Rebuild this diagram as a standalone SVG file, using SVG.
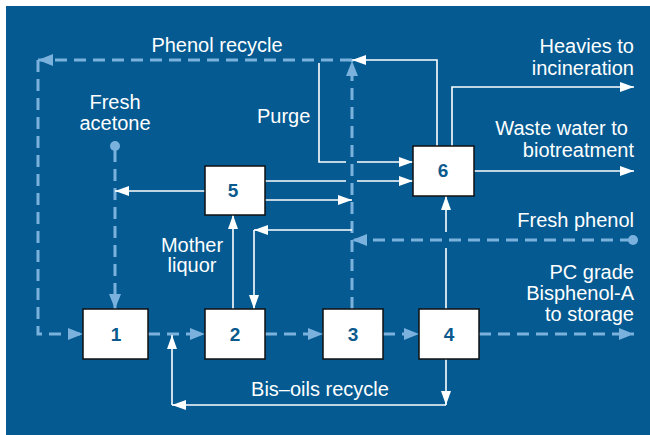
<svg xmlns="http://www.w3.org/2000/svg" width="650" height="435" viewBox="0 0 650 435">
<style>
.lbl{font-family:"Liberation Sans",Arial,sans-serif;font-size:20px;fill:#ffffff}
.num{font-family:"Liberation Sans",Arial,sans-serif;font-size:19px;font-weight:bold;fill:#0b5a8e;text-anchor:middle}
.box{fill:#ffffff;stroke:#111111;stroke-width:1.5}
.w{fill:none;stroke:#ffffff;stroke-width:1.6}
.d{fill:none;stroke:#7ab1dd;stroke-width:3;stroke-dasharray:12 7}
.r{text-anchor:end}
.m{text-anchor:middle}
</style>
<defs>
<marker id="aw" markerUnits="userSpaceOnUse" markerWidth="14" markerHeight="10" refX="14" refY="5" orient="auto"><path d="M0,0 L14,5 L0,10 z" fill="#ffffff"/></marker>
<marker id="ad" markerUnits="userSpaceOnUse" markerWidth="15" markerHeight="12" refX="15" refY="6" orient="auto"><path d="M0,0 L15,6 L0,12 z" fill="#7ab1dd"/></marker>
</defs>
<rect x="0" y="0" width="650" height="435" fill="#ffffff"/>
<rect x="6" y="6" width="644" height="429" fill="#045a91"/>
<g id="connectors">
<path class="d" d="M352,60 H38" marker-end="url(#ad)"/>
<path class="d" d="M38,60 V334 H83" marker-end="url(#ad)"/>
<path class="d" d="M352,309 V61" marker-end="url(#ad)"/>
<path class="d" d="M115,150 V309" marker-end="url(#ad)"/>
<circle cx="115" cy="146" r="5" fill="#7ab1dd"/>
<path class="d" d="M632,240 H352" marker-end="url(#ad)"/>
<circle cx="633" cy="240" r="5" fill="#7ab1dd"/>
<path class="d" d="M148,334 H205" marker-end="url(#ad)"/>
<path class="d" d="M265,334 H323" marker-end="url(#ad)"/>
<path class="d" d="M383,334 H419" marker-end="url(#ad)"/>
<path class="d" d="M479,334 H634" marker-end="url(#ad)"/>
<path class="w" d="M437,146 V60 H352" marker-end="url(#aw)"/>
<path class="w" d="M319,63 V162 H346"/>
<path class="w" d="M357,162 H413" marker-end="url(#aw)"/>
<path class="w" d="M265,181 H346"/>
<path class="w" d="M357,181 H413" marker-end="url(#aw)"/>
<path class="w" d="M265,200 H352" marker-end="url(#aw)"/>
<path class="w" d="M205,191 H115" marker-end="url(#aw)"/>
<path class="w" d="M233,309 V215" marker-end="url(#aw)"/>
<path class="w" d="M352,230 H254" marker-end="url(#aw)"/>
<path class="w" d="M254,230 V309" marker-end="url(#aw)"/>
<path class="w" d="M446,232 V196" marker-end="url(#aw)"/>
<path class="w" d="M446,248 V309"/>
<path class="w" d="M446,359 V405" marker-end="url(#aw)"/>
<path class="w" d="M446,405 H172" marker-end="url(#aw)"/>
<path class="w" d="M172,405 V335" marker-end="url(#aw)"/>
<path class="w" d="M452,146 V87 H634" marker-end="url(#aw)"/>
<path class="w" d="M474,171 H634" marker-end="url(#aw)"/>
</g>
<g id="n1"><rect class="box" x="83" y="309" width="65" height="50"/><text class="num" x="116" y="341">1</text></g>
<g id="n2"><rect class="box" x="205" y="309" width="60" height="50"/><text class="num" x="235" y="341">2</text></g>
<g id="n3"><rect class="box" x="323" y="309" width="60" height="50"/><text class="num" x="353" y="341">3</text></g>
<g id="n4"><rect class="box" x="419" y="309" width="60" height="50"/><text class="num" x="449" y="341">4</text></g>
<g id="n5"><rect class="box" x="205" y="166" width="60" height="49"/><text class="num" x="233" y="197">5</text></g>
<g id="n6"><rect class="box" x="413" y="146" width="61" height="50"/><text class="num" x="443" y="177">6</text></g>
<g id="labels">
<text class="lbl m" x="217" y="52">Phenol recycle</text>
<text class="lbl m" x="115" y="109">Fresh</text>
<text class="lbl m" x="115" y="130">acetone</text>
<text class="lbl" x="257" y="123">Purge</text>
<text class="lbl m" x="192" y="252">Mother</text>
<text class="lbl m" x="192" y="272">liquor</text>
<text class="lbl m" x="320" y="396">Bis–oils recycle</text>
<text class="lbl r" x="634" y="53">Heavies to</text>
<text class="lbl r" x="634" y="75">incineration</text>
<text class="lbl r" x="628" y="135">Waste water to</text>
<text class="lbl r" x="634" y="157">biotreatment</text>
<text class="lbl r" x="634" y="227">Fresh phenol</text>
<text class="lbl r" x="634" y="279">PC grade</text>
<text class="lbl r" x="634" y="300">Bisphenol-A</text>
<text class="lbl r" x="634" y="321">to storage</text>
</g>
</svg>
